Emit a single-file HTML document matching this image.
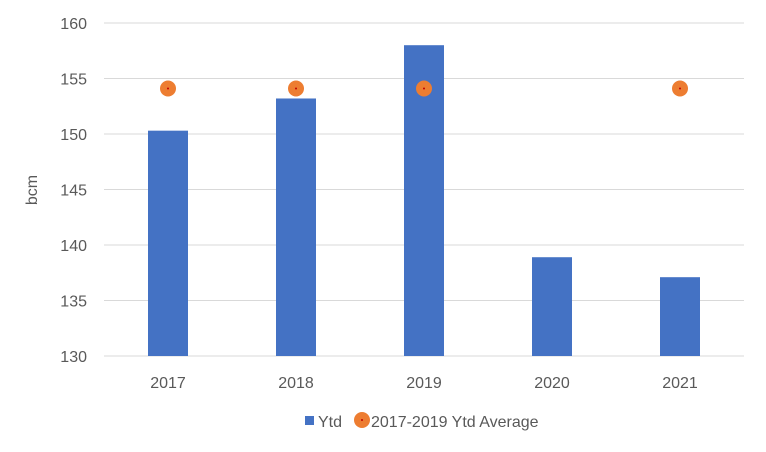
<!DOCTYPE html>
<html><head><meta charset="utf-8"><style>
body{margin:0;background:#fff;}
svg{display:block;font-family:"Liberation Sans",sans-serif;}
</style></head><body>
<svg id="chart" width="766" height="452">
<g id="grid"></g>
<g id="yticks"></g>
<g id="bars"></g>
<g id="dots"></g>
<g id="xticks"></g>
<text x="37" y="190" transform="rotate(-90 37 190)" text-anchor="middle" font-size="16" fill="#595959">bcm</text>
<g>
<rect x="305" y="416" width="9" height="9" fill="#4472C4"/>
<text x="318" y="427" font-size="16" fill="#595959">Ytd</text>
<circle cx="362" cy="420" r="8" fill="#ED7D31"/>
<circle cx="362" cy="420" r="1" fill="#C00000"/>
<text x="371" y="427" font-size="16" fill="#595959">2017-2019 Ytd Average</text>
</g>
</svg>
<script>
const categories=["2017","2018","2019","2020","2021"];
const ytdValues=[150.3,153.2,158.0,138.9,137.1];
const avgValues=[154.1,154.1,154.1,null,154.1];
const yTicks=[130,135,140,145,150,155,160];
const NS="http://www.w3.org/2000/svg";
const x0=104,x1=744,yTop=23,yBot=356,yMin=130,yMax=160;
const band=(x1-x0)/categories.length;
const xc=i=>x0+band*(i+0.5);
const y=v=>yBot-(v-yMin)/(yMax-yMin)*(yBot-yTop);
function mk(tag,attrs,parent){const e=document.createElementNS(NS,tag);for(const k in attrs)e.setAttribute(k,attrs[k]);document.getElementById(parent).appendChild(e);return e;}
yTicks.forEach(t=>{
 const l=mk("line",{x1:x0,x2:x1,y1:y(t),y2:y(t),stroke:"#D9D9D9","stroke-width":1},"grid");
 
 
 const tx=mk("text",{x:87,y:y(t)+6,"text-anchor":"end","font-size":"16",fill:"#595959"},"yticks");
 tx.textContent=t;
 
 
});
categories.forEach((c,i)=>{
 const b=mk("rect",{x:xc(i)-20,y:y(ytdValues[i]),width:40,height:yBot-y(ytdValues[i]),fill:"#4472C4"},"bars");
 
 
 if(avgValues[i]!=null){
  const d=mk("circle",{cx:xc(i),cy:y(avgValues[i]),r:8,fill:"#ED7D31"},"dots");
  
  
  const d2=mk("circle",{cx:xc(i),cy:y(avgValues[i]),r:1,fill:"#C00000"},"dots");
  
  
 }
 const tx=mk("text",{x:xc(i),y:388,"text-anchor":"middle","font-size":"16",fill:"#595959"},"xticks");
 tx.textContent=c;
 
 
});
</script>
</body></html>
